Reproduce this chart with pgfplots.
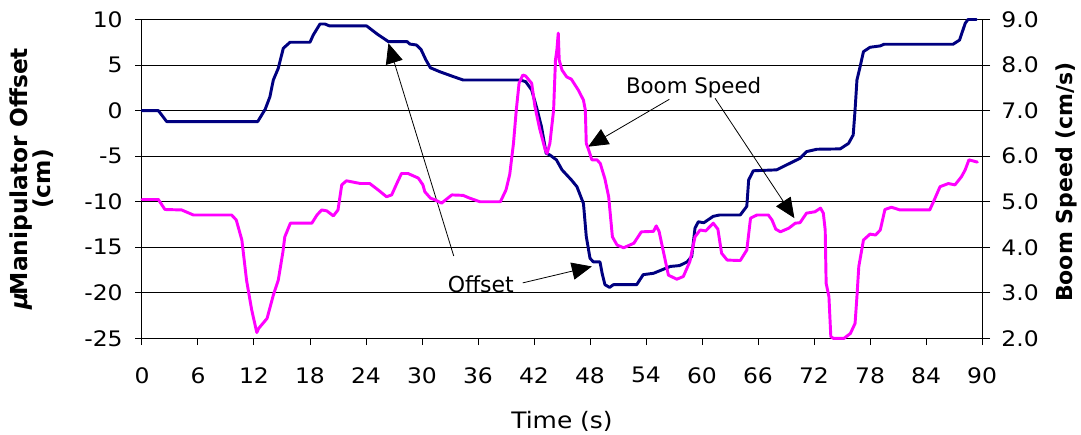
\documentclass[border=0pt]{standalone}
\usepackage{fontspec}
\setmainfont{DejaVu Sans}[FakeStretch=1.1]
\newfontfamily\annfont{DejaVu Sans}
\usepackage{pgfplots}
\pgfplotsset{compat=1.18}
\usetikzlibrary{arrows.meta}
\definecolor{navyc}{RGB}{0,0,128}
\definecolor{magc}{RGB}{255,0,255}
\pgfplotstableread{
t v
0 0
1.75 0
2.2 -0.6
2.64 -1.2
12.4 -1.2
13.2 0.15
13.7 1.5
14.07 3.36
14.6 4.64
15.14 6.84
15.86 7.5
18.0 7.5
18.35 8.3
19.07 9.5
19.6 9.5
20.1 9.29
24.07 9.29
25.2 8.4
26.4 7.57
28.4 7.57
28.7 7.3
29.4 7.2
29.9 6.7
30.4 5.6
30.9 4.7
31.9 4.27
33.36 3.73
34.4 3.36
40.5 3.36
41.1 3.18
41.75 2.27
42.3 0.26
42.8 -1.76
43.3 -4.68
43.7 -4.87
44.4 -5.4
45.0 -6.5
46.0 -7.6
46.6 -8.35
47.3 -10.2
47.6 -13.8
48.0 -16.2
48.36 -16.6
49.07 -16.6
49.3 -17.85
49.6 -19.1
50.1 -19.4
50.5 -19.1
53.0 -19.1
53.7 -18.0
54.8 -17.85
56.6 -17.1
57.6 -17.0
58.4 -16.6
58.9 -16.0
59.25 -12.9
59.6 -12.2
60.2 -12.3
61.2 -11.6
61.9 -11.45
64.1 -11.45
64.8 -10.5
65.0 -7.6
65.5 -6.6
68.0 -6.5
70.5 -5.23
71.2 -4.5
72.3 -4.24
74.8 -4.2
75.7 -3.6
76.2 -2.67
76.4 0.07
76.6 3.36
76.9 4.64
77.3 6.47
78.0 6.95
79.1 7.1
79.5 7.28
86.9 7.28
87.6 7.75
88.2 9.58
88.5 10.0
89.4 10.0
}\offsettab
\pgfplotstableread{
t s
0 5.05
1.75 5.05
2.46 4.83
4.25 4.82
5.5 4.71
9.6 4.71
10.1 4.6
10.7 4.16
11.2 3.28
11.75 2.63
12.3 2.13
12.5 2.22
13.4 2.44
14.07 2.95
14.6 3.28
15.1 3.9
15.3 4.23
15.9 4.53
18.2 4.53
18.75 4.71
19.25 4.82
19.8 4.8
20.5 4.69
21.0 4.82
21.4 5.37
21.9 5.46
23.4 5.4
24.4 5.4
25.3 5.26
26.2 5.11
26.75 5.15
27.3 5.4
27.8 5.62
28.5 5.62
29.6 5.52
30.1 5.37
30.3 5.22
30.9 5.08
31.4 5.04
32.1 4.97
33.2 5.15
34.4 5.14
35.1 5.08
36.2 5.0
38.4 5.0
39.0 5.26
39.4 5.6
39.8 6.28
40.1 7.01
40.4 7.6
40.8 7.78
41.1 7.76
41.75 7.6
42.1 7.09
42.6 6.61
43.2 6.14
43.4 6.06
43.7 6.28
44.1 7.01
44.3 8.11
44.45 8.33
44.6 8.70
44.7 8.11
45.0 7.89
45.5 7.74
46.0 7.69
46.75 7.45
47.3 7.23
47.5 7.01
47.6 6.28
47.8 6.17
48.2 5.92
48.75 5.92
49.1 5.84
49.6 5.5
50.0 5.11
50.4 4.23
50.9 4.05
51.6 3.99
52.7 4.09
53.5 4.34
54.8 4.35
55.1 4.47
55.4 4.35
55.9 3.87
56.4 3.39
57.3 3.30
58.0 3.36
58.7 3.69
59.25 4.23
59.8 4.38
60.4 4.36
61.2 4.53
61.7 4.40
62.1 3.87
62.7 3.72
64.1 3.71
64.8 3.94
65.2 4.64
65.9 4.71
67.1 4.71
67.5 4.6
67.9 4.40
68.4 4.34
69.3 4.42
70.0 4.53
70.5 4.54
71.2 4.75
72.1 4.78
72.7 4.86
73.0 4.75
73.2 4.38
73.3 3.21
73.6 2.92
73.8 2.04
74.1 2.0
75.2 2.0
75.9 2.11
76.4 2.33
76.6 2.92
76.8 3.58
77.3 4.16
78.0 4.29
78.6 4.27
79.1 4.38
79.6 4.83
80.3 4.88
81.2 4.82
84.4 4.82
84.8 5.0
85.5 5.33
86.4 5.40
87.1 5.37
87.8 5.55
88.2 5.70
88.6 5.92
89.5 5.87
}\speedtab
\begin{document}
\begin{tikzpicture}
\begin{axis}[
  scale only axis, width=630pt, height=239.25pt,
  xmin=0, xmax=90, ymin=-25, ymax=10,
  xtick={0,6,...,90},
  xticklabels={0,6,12,18,24,30,36,42,48,54,60,66,72,78,84,90},
  ytick={-25,-20,...,10},
  yticklabels={-25,-20,-15,-10,-5,0,5,10},
  axis x line*=bottom, axis y line*=left,
  tick align=outside, major tick length=5pt,
  ymajorgrids, grid style={black, line width=0.7pt},
  axis line style={black, line width=0.75pt},
  tick style={black, line width=0.75pt},
  clip=false,
  ticklabel style={font=\fontsize{16}{16}\selectfont},
  /pgf/number format/assume math mode=true,
  xticklabel style={yshift=-13pt},
  yticklabel style={xshift=-6pt},
  xlabel={Time (s)},
  xlabel style={font=\fontsize{17}{17}\selectfont, at={(axis description cs:0.5,-0.259)}, anchor=center},
  ylabel={\bfseries{\itshape μ}\kern-0.1em Manipulator Offset\\\bfseries (cm)},
  ylabel style={font=\annfont\fontsize{17.5}{17.5}\selectfont, align=center, at={(axis description cs:-0.131,0.5)}, anchor=center},
]
\addplot[navyc, line width=2.2pt, line join=round, line cap=round] table[x=t, y=v] {\offsettab};
\draw[-{Triangle[length=15pt,width=13pt]}, line width=0.6pt] (axis cs:56.5,1.24) -- (axis cs:47.8,-3.96);
\draw[-{Triangle[length=15pt,width=13pt]}, line width=0.6pt] (axis cs:61.4,1.35) -- (axis cs:69.9,-11.8);
\draw[-{Triangle[length=15pt,width=13pt]}, line width=0.6pt] (axis cs:40.8,-18.9) -- (axis cs:48.2,-17.1);
\draw[-{Triangle[length=15pt,width=13pt]}, line width=0.6pt] (axis cs:33.4,-15.95) -- (axis cs:26.4,7.39);
\node[font=\annfont\fontsize{16}{16}\selectfont] at (axis cs:59.1,2.48) {Boom Speed};
\node[font=\annfont\fontsize{16.5}{16.5}\selectfont] at (axis cs:36.3,-19.1) {Offset};
\end{axis}
\begin{axis}[
  scale only axis, width=630pt, height=239.25pt,
  xmin=0, xmax=90, ymin=2, ymax=9,
  axis y line*=right, axis x line=none,
  ytick={2,3,...,9},
  yticklabels={2.0,3.0,4.0,5.0,6.0,7.0,8.0,9.0},
  tick align=outside, major tick length=6pt,
  axis line style={black, line width=0.75pt},
  tick style={black, line width=0.75pt},
  clip=false,
  ticklabel style={font=\fontsize{16}{16}\selectfont},
  /pgf/number format/assume math mode=true,
  yticklabel style={xshift=5pt},
  ylabel={\bfseries Boom Speed (cm/s)},
  ylabel style={font=\annfont\fontsize{16.5}{16.5}\selectfont, at={(axis description cs:1.1,0.49)}, anchor=center},
]
\addplot[magc, line width=2.2pt, line join=round, line cap=round] table[x=t, y=s] {\speedtab};
\end{axis}
\pgfresetboundingbox
\path (-106.5pt,-72.4pt) rectangle (704.25pt,253.85pt);
\end{tikzpicture}
\end{document}
